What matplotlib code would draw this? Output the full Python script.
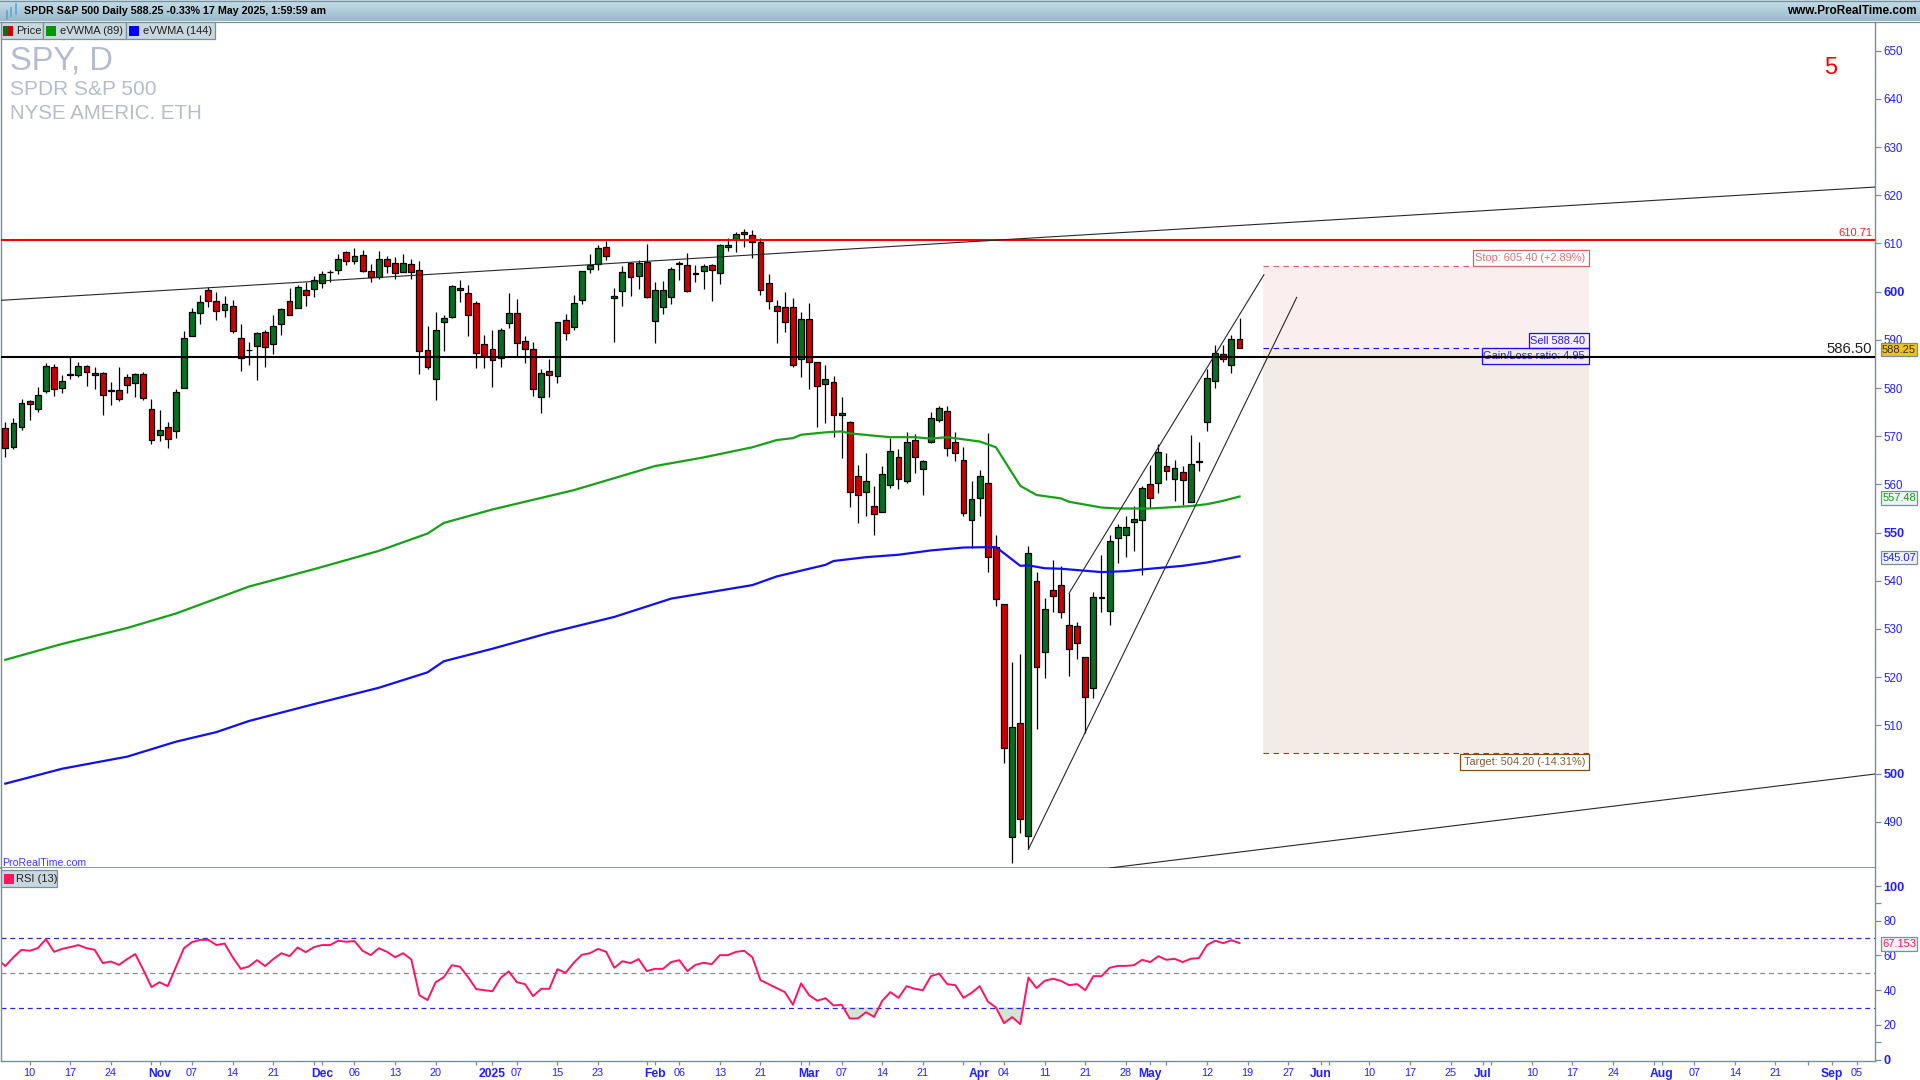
# SPY daily chart with eVWMA and RSI panel

import numpy as np
import matplotlib
matplotlib.use('Agg')
import matplotlib.pyplot as plt
from matplotlib.patches import Rectangle

plt.rcParams['font.family'] = ['Liberation Sans', 'DejaVu Sans']

opens = [571.7, 567.8, 572.0, 577.3, 575.7, 579.3, 584.3, 579.9, 582.6, 582.8,
         584.5, 582.6, 583.1, 579.5, 579.5, 582.2, 581.0, 582.9, 575.6, 570.3,
         571.9, 571.0, 580.0, 590.7, 595.5, 600.3, 598.0, 596.1, 597.0, 590.3,
         587.9, 588.7, 591.6, 589.1, 593.2, 598.0, 596.6, 600.3, 600.5, 601.7,
         604.1, 604.4, 608.2, 606.3, 607.5, 604.2, 603.1, 606.7, 605.9, 604.0,
         605.7, 604.4, 587.8, 581.8, 593.8, 594.7, 600.7, 599.7, 597.6, 589.1,
         588.0, 586.2, 593.4, 595.5, 589.7, 588.0, 578.1, 583.5, 582.4, 594.1,
         592.6, 598.2, 604.6, 605.7, 609.2, 598.6, 600.1, 605.9, 603.2, 606.1,
         593.9, 596.8, 598.8, 605.7, 605.5, 603.8, 604.2, 605.5, 603.8, 609.2,
         610.9, 611.9, 611.7, 610.2, 601.7, 597.0, 596.8, 596.8, 586.0, 594.3,
         585.3, 580.8, 581.2, 574.3, 572.9, 561.7, 558.4, 555.5, 554.2, 559.8,
         565.6, 560.7, 569.2, 563.1, 568.9, 573.3, 575.2, 568.7, 565.0, 552.6,
         557.1, 560.2, 547.0, 535.1, 486.8, 510.4, 487.0, 539.9, 525.2, 538.0,
         539.1, 530.8, 530.6, 524.1, 517.7, 536.6, 533.7, 548.8, 549.4, 552.2,
         552.6, 560.0, 560.2, 563.8, 561.1, 562.5, 556.3, 564.8, 572.9, 581.4,
         587.0, 584.7, 590.1]
highs = [573.0, 573.7, 577.7, 577.5, 580.2, 585.1, 584.9, 582.6, 586.4, 585.3,
         584.7, 584.4, 583.3, 581.2, 584.4, 582.9, 583.1, 583.3, 577.7, 575.4,
         572.9, 579.7, 591.8, 596.6, 599.4, 600.9, 599.9, 599.0, 598.2, 593.2,
         589.6, 591.6, 592.0, 595.1, 596.6, 600.7, 601.3, 601.9, 603.2, 604.2,
         604.4, 607.8, 608.4, 609.0, 608.6, 605.7, 608.4, 607.3, 607.1, 607.8,
         606.7, 606.3, 592.8, 595.7, 595.1, 601.3, 602.4, 601.3, 598.1, 591.0,
         592.0, 592.4, 599.7, 598.4, 590.7, 589.5, 583.9, 586.0, 593.8, 595.3,
         599.2, 604.2, 607.8, 609.6, 610.5, 600.7, 605.3, 606.1, 606.5, 609.8,
         601.9, 602.2, 605.1, 606.3, 608.0, 605.5, 605.7, 605.7, 609.8, 611.1,
         612.3, 613.1, 612.7, 611.1, 603.6, 598.2, 599.9, 598.6, 595.7, 597.6,
         585.3, 584.7, 582.4, 578.1, 573.1, 564.0, 566.5, 559.6, 563.8, 569.6,
         567.3, 570.8, 570.4, 565.0, 575.0, 576.2, 576.2, 570.8, 567.7, 560.7,
         562.9, 570.6, 549.4, 535.1, 523.2, 524.8, 547.2, 541.8, 536.4, 544.3,
         543.0, 537.4, 531.4, 524.1, 537.6, 545.3, 549.4, 551.7, 553.4, 555.5,
         559.7, 564.0, 568.3, 566.5, 565.0, 563.8, 570.2, 568.7, 584.0, 588.9,
         589.0, 591.0, 594.5]
lows = [565.6, 567.4, 571.2, 573.4, 575.1, 578.9, 578.4, 578.9, 581.9, 582.2,
        580.5, 579.8, 574.3, 576.4, 577.4, 578.9, 578.2, 577.6, 568.3, 569.1,
        567.6, 569.7, 580.0, 590.7, 593.2, 596.9, 594.2, 594.8, 591.5, 583.6,
        584.7, 581.7, 584.4, 587.1, 590.9, 595.1, 596.6, 597.1, 598.8, 600.8,
        602.1, 603.7, 605.6, 605.7, 604.0, 601.9, 602.6, 603.8, 602.7, 604.0,
        602.7, 583.0, 584.0, 577.6, 587.6, 594.5, 597.9, 590.7, 584.2, 584.2,
        580.3, 584.4, 592.5, 586.6, 585.1, 578.4, 574.9, 578.2, 581.1, 590.0,
        592.0, 597.4, 603.9, 604.4, 606.6, 589.6, 597.1, 599.0, 600.6, 598.6,
        589.4, 595.4, 597.5, 602.5, 599.9, 602.1, 600.6, 598.1, 601.5, 608.5,
        608.3, 609.3, 606.9, 599.4, 596.3, 589.4, 591.7, 584.4, 582.2, 579.7,
        572.0, 572.8, 569.9, 565.4, 555.4, 551.9, 553.5, 549.6, 554.2, 559.2,
        559.0, 560.2, 562.3, 557.9, 568.5, 572.9, 565.8, 564.8, 553.4, 546.8,
        553.5, 541.9, 534.7, 502.1, 481.5, 487.6, 484.3, 509.3, 519.9, 533.6,
        532.2, 520.2, 523.7, 508.4, 515.6, 533.6, 530.9, 543.6, 544.9, 546.1,
        541.3, 555.1, 558.3, 560.9, 556.6, 555.8, 556.3, 562.7, 571.0, 580.1,
        585.3, 583.2, 588.25]
closes = [567.5, 572.7, 576.8, 576.6, 578.5, 584.5, 579.7, 581.4, 582.9, 584.5,
          583.4, 583.1, 578.5, 579.3, 577.8, 580.6, 582.9, 577.9, 569.2, 571.2,
          569.4, 579.1, 590.3, 595.7, 597.8, 598.0, 595.9, 597.4, 591.8, 586.2,
          587.8, 591.4, 588.5, 592.8, 596.3, 595.1, 600.9, 599.2, 602.4, 603.6,
          604.0, 606.7, 606.3, 607.3, 604.2, 603.0, 606.7, 605.3, 603.8, 605.9,
          604.0, 587.6, 584.3, 592.0, 594.5, 601.1, 600.3, 595.1, 587.2, 586.6,
          585.8, 592.0, 595.5, 589.3, 588.0, 579.7, 583.1, 582.6, 593.6, 591.4,
          597.6, 604.2, 605.6, 609.0, 607.3, 599.0, 604.0, 603.0, 605.9, 598.8,
          600.3, 600.3, 604.6, 605.9, 600.1, 603.7, 605.3, 604.4, 609.6, 609.6,
          611.9, 612.3, 610.2, 600.3, 598.0, 595.9, 593.6, 584.7, 594.3, 585.3,
          580.4, 581.8, 574.3, 574.8, 558.4, 557.8, 560.7, 553.8, 562.1, 566.9,
          561.1, 568.7, 565.6, 564.8, 573.7, 575.8, 567.5, 566.5, 554.0, 556.9,
          561.7, 544.9, 536.2, 505.4, 509.6, 490.5, 545.7, 522.1, 534.1, 536.8,
          533.5, 525.8, 527.0, 515.8, 536.6, 536.5, 548.2, 551.1, 551.1, 552.8,
          559.2, 557.1, 566.7, 562.7, 563.3, 560.9, 564.2, 564.7, 582.0, 587.2,
          586.0, 590.1, 588.25]

# moving averages, read at the bars where they bend
evwma89_bars = [0, 7, 15, 21, 26, 30, 38, 46, 52, 54, 60, 67, 70, 80, 86, 92, 95,
                97, 98, 101, 103, 104, 107, 109, 112, 114, 116, 120, 122, 125, 127,
                130, 131, 135, 137, 141, 143, 146, 148, 150, 152]
evwma89 = [523.6, 526.9, 530.2, 533.2, 536.3, 538.8, 542.4, 546.2, 549.8, 552.0,
           554.8, 557.6, 558.8, 563.8, 565.6, 567.7, 569.2, 569.6, 570.3, 570.8,
           571.0, 570.6, 570.1, 569.8, 569.8, 569.5, 569.8, 568.9, 567.7, 559.7,
           557.8, 557.1, 556.4, 555.2, 555.0, 555.0, 555.2, 555.5, 555.9, 556.6,
           557.48]
evwma144_bars = [0, 7, 15, 21, 26, 30, 38, 46, 52, 54, 60, 67, 75, 82, 92, 95, 101,
                 102, 106, 110, 114, 118, 122, 125, 126, 128, 130, 135, 138, 141,
                 145, 148, 152]
evwma144 = [497.9, 501.0, 503.5, 506.6, 508.6, 510.9, 514.4, 517.8, 521.0, 523.3,
            525.9, 529.2, 532.5, 536.3, 539.1, 540.9, 543.3, 544.1, 544.9, 545.4,
            546.3, 546.9, 547.0, 543.1, 543.2, 542.6, 542.5, 541.8, 542.0, 542.5,
            543.1, 543.8, 545.07]

rsi = [58.1, 53.9, 59.0, 63.3, 62.7, 64.2, 69.4, 62.1, 63.8, 64.8, 66.0, 64.2, 63.3,
       55.6, 56.5, 54.6, 57.9, 60.8, 51.7, 41.8, 44.6, 42.3, 53.3, 64.2, 67.7, 69.0,
       69.0, 66.0, 66.9, 59.0, 52.3, 53.7, 57.3, 53.9, 57.9, 61.3, 59.6, 64.6, 61.9,
       64.8, 66.0, 66.0, 68.5, 67.9, 68.3, 62.7, 60.2, 64.2, 62.1, 59.0, 61.3, 57.7,
       37.1, 34.3, 44.6, 47.5, 54.4, 53.5, 47.5, 40.6, 40.0, 39.4, 47.1, 50.8, 44.6,
       43.5, 36.6, 40.8, 40.8, 52.1, 50.0, 55.8, 60.4, 61.3, 63.8, 62.1, 52.9, 56.7,
       55.6, 57.9, 51.0, 52.3, 52.3, 56.2, 57.3, 51.0, 54.6, 55.8, 55.0, 60.2, 60.2,
       62.1, 62.7, 59.0, 45.8, 43.5, 41.2, 38.9, 31.6, 43.9, 37.1, 33.9, 35.4, 31.2,
       31.6, 23.7, 23.7, 27.3, 24.6, 33.9, 38.9, 35.6, 42.3, 40.8, 40.0, 48.1, 49.6,
       43.5, 42.9, 35.6, 38.5, 42.3, 33.5, 30.0, 21.0, 24.5, 20.4, 47.3, 41.2, 45.4,
       46.6, 45.4, 42.9, 43.5, 40.0, 48.1, 48.1, 52.9, 54.0, 54.0, 54.4, 57.5, 56.2,
       59.6, 57.5, 58.1, 56.2, 58.1, 58.5, 66.0, 68.5, 67.1, 68.8, 67.153]

date_bars = [3, 8, 13, 19, 23, 28, 33, 39, 43, 48, 53, 60, 63, 68, 73, 80, 83, 88, 93,
             99, 103, 108, 113, 120, 123, 128, 133, 138, 141, 148, 153, 158, 162, 168,
             173, 178, 182, 188, 193, 198, 204, 208, 213, 218, 225, 228]
date_labels = ['10', '17', '24', 'Nov', '07', '14', '21', 'Dec', '06', '13', '20', '2025',
               '07', '15', '23', 'Feb', '06', '13', '21', 'Mar', '07', '14', '21', 'Apr',
               '04', '11', '21', '28', 'May', '12', '19', '27', 'Jun', '10', '17', '25',
               'Jul', '10', '17', '24', 'Aug', '07', '14', '21', 'Sep', '05']
extra_ticks = [18, 38, 58, 79, 98, 118, 143, 163, 183, 203, 222]
month_names = ['Nov', 'Dec', '2025', 'Feb', 'Mar', 'Apr', 'May', 'Jun', 'Jul', 'Aug', 'Sep']

price_ticks = [490, 500, 510, 520, 530, 540, 550, 560, 570, 580, 590, 600, 610, 620, 630, 640, 650]
rsi_ticks = [0, 20, 40, 60, 80, 100]
rsi_blank_ticks = [10, 90]

resistance = 610.71
support = 586.50
stop_price = 605.40
sell_price = 588.40
target_price = 504.20
last_close = 588.25

# trend lines as (bar, price) pairs
upper_channel = ([-0.53, 230.26], [598.2, 621.7])
lower_channel = ([136.0, 230.26], [480.4, 499.9])
wedge_low = ([126.0, 159.04], [484.3, 598.8])
wedge_high = ([131.0, 155.0], [537.4, 603.5])
order_bars = [154.9, 195.0]

RED = '#cc0000'
GREEN = '#057020'
AXIS = '#78909c'
BLUE_TXT = '#2020ff'
W, H = 1920, 1080

fig = plt.figure(figsize=(19.2, 10.8), dpi=100, facecolor='white')


def make_axes(x0, y0, x1, y1):
    return fig.add_axes([x0 / W, 1 - y1 / H, (x1 - x0) / W, (y1 - y0) / H])


ax = make_axes(1, 22, 1875, 868)
ax_rsi = make_axes(1, 868, 1875, 1061)
x = np.arange(len(closes))

# order zone
ax.fill_between(order_bars, sell_price, stop_price, color='#fbeeee', lw=0, zorder=1)
ax.fill_between(order_bars, target_price, sell_price, color='#f2ebe6', lw=0, zorder=1)
ax.plot(order_bars, [stop_price, stop_price], color='#e06060', lw=0.8, ls=(0, (5, 4)), zorder=2)
ax.plot(order_bars, [sell_price, sell_price], color='#1010f0', lw=0.8, ls=(0, (5, 4)), zorder=2)
ax.plot(order_bars, [target_price, target_price], color='#8a4b08', lw=0.8, ls=(0, (5, 4)), zorder=2)

# candles
body_lo = np.minimum(opens, closes)
body_hi = np.maximum(opens, closes)
colors = [GREEN if c >= o else RED for o, c in zip(opens, closes)]
ax.vlines(x, lows, highs, color='black', lw=0.9, zorder=3)
ax.bar(x, body_hi - body_lo, bottom=body_lo, width=0.72, color=colors,
       edgecolor='black', linewidth=0.9, zorder=4)

ax.plot(evwma89_bars, evwma89, color='#18a018', lw=1.6, zorder=5)
ax.plot(evwma144_bars, evwma144, color='#1010f0', lw=1.6, zorder=5)

ax.axhline(resistance, color='#ff0000', lw=1.5, zorder=6)
ax.axhline(support, color='black', lw=1.5, zorder=6)
for line in (upper_channel, lower_channel, wedge_low, wedge_high):
    ax.plot(line[0], line[1], color='#282828', lw=0.8, zorder=6)

ax.set_xlim(-0.53, 230.26)
ax.set_ylim(480.4, 655.95)
ax.set_xticks([])
ax.yaxis.tick_right()
ax.set_yticks(price_ticks)
ax.tick_params(axis='y', length=4, width=0.9, color=AXIS, pad=2)
for lab, val in zip(ax.get_yticklabels(), price_ticks):
    lab.set_color(BLUE_TXT)
    if val % 50 == 0 and val != 650:
        lab.set_fontsize(9.2)
        lab.set_fontweight('bold')
    else:
        lab.set_fontsize(8.3)

# rsi panel
rsi_x = np.arange(len(rsi)) - 1
rsi_arr = np.array(rsi)
ax_rsi.fill_between(rsi_x, rsi_arr, 30, where=rsi_arr < 30, interpolate=True, color='#d5e3d3', lw=0)
ax_rsi.axhline(70, color='#2a2ad8', lw=0.9, ls=(0, (4, 3)))
ax_rsi.axhline(30, color='#2a2ad8', lw=0.9, ls=(0, (4, 3)))
ax_rsi.axhline(50, color='#8c8c8c', lw=0.9, ls=(0, (4, 3)))
ax_rsi.plot(rsi_x, rsi, color='#ff1460', lw=1.4)
ax_rsi.set_xlim(-0.53, 230.26)
ax_rsi.set_ylim(-0.8, 110.4)
ax_rsi.yaxis.tick_right()
ax_rsi.set_yticks(rsi_ticks + rsi_blank_ticks)
ax_rsi.set_yticklabels([str(v) for v in rsi_ticks] + ['', ''])
ax_rsi.tick_params(axis='y', length=4, width=0.9, color=AXIS, pad=2)
for lab, val in zip(ax_rsi.get_yticklabels(), rsi_ticks):
    lab.set_color(BLUE_TXT)
    if val in (0, 100):
        lab.set_fontsize(9.2)
        lab.set_fontweight('bold')
    else:
        lab.set_fontsize(8.3)

ax_rsi.set_xticks(date_bars + extra_ticks)
ax_rsi.set_xticklabels(date_labels + [''] * len(extra_ticks))
ax_rsi.tick_params(axis='x', length=3, width=0.9, color=AXIS, pad=1.8)
for lab in ax_rsi.get_xticklabels():
    lab.set_color(BLUE_TXT)
    if lab.get_text() in month_names:
        lab.set_fontsize(8.7)
        lab.set_fontweight('bold')
    else:
        lab.set_fontsize(7.8)

for a in (ax, ax_rsi):
    for side, spine in a.spines.items():
        spine.set_color(AXIS)
        spine.set_linewidth(1.0)
    a.spines['top'].set_visible(False)
ax.spines['bottom'].set_linewidth(1.3)

# overlay in pixel coordinates for header, tabs and value boxes
ui = fig.add_axes([0, 0, 1, 1], zorder=10)
ui.set_xlim(0, W)
ui.set_ylim(H, 0)
ui.axis('off')
ui.patch.set_alpha(0)

grad = np.linspace(0, 1, 21)[:, None, None] * (np.array([0.60, 0.73, 0.79]) - np.array([0.78, 0.87, 0.91])) + np.array([0.78, 0.87, 0.91])
ui.imshow(grad, extent=(0, W, 21, 0), aspect='auto', zorder=1)
ui.set_xlim(0, W)
ui.set_ylim(H, 0)
ui.plot([0, W], [21.5, 21.5], color=AXIS, lw=0.9, zorder=2)
ui.plot([0, W], [0.5, 0.5], color=AXIS, lw=0.9, zorder=2)
ui.text(24, 11.5, 'SPDR S&P 500 Daily 588.25 -0.33% 17 May 2025, 1:59:59 am', fontsize=7.7,
        fontweight='bold', color='black', va='center', ha='left', zorder=3)
ui.text(1917, 11.5, 'www.ProRealTime.com', fontsize=8.5, fontweight='bold', color='black',
        va='center', ha='right', zorder=3)
# small candle icon in the header
ui.plot([7, 7], [11, 19], color='#5aa6d8', lw=1.2, zorder=3)
ui.plot([11, 11], [8, 16], color='#5aa6d8', lw=1.2, zorder=3)
ui.plot([16, 16], [4, 14], color='#5aa6d8', lw=1.2, zorder=3)


def tab(x0, x1, y0, y1, label, swatches, tx):
    ui.add_patch(Rectangle((x0, y0), x1 - x0, y1 - y0, fc='#c9d8df', ec=AXIS, lw=0.9, zorder=3))
    sx = x0 + 2 if len(swatches) == 2 else x0 + 3
    for col in swatches:
        ui.add_patch(Rectangle((sx, y0 + 4), 5 if len(swatches) == 2 else 10, 10, fc=col, ec='none', zorder=4))
        sx += 5
    ui.text(tx, (y0 + y1) / 2 + 0.5, label, fontsize=8, color='#202020', va='center', ha='left', zorder=4)


tab(0.5, 42.5, 22, 39, 'Price', [GREEN, RED], 16)
tab(42.5, 125.5, 22, 39, 'eVWMA (89)', ['#009900'], 60)
tab(125.5, 214.5, 22, 39, 'eVWMA (144)', ['#0000ff'], 143)
tab(0.5, 57, 870, 886.5, 'RSI (13)', ['#ff1460'], 16)

ui.text(10, 60.5, 'SPY, D', fontsize=23.6, color='#b5bdcd', va='center', ha='left', zorder=3)
ui.text(10, 89.5, 'SPDR S&P 500', fontsize=15, color='#b5bdcd', va='center', ha='left', zorder=3)
ui.text(10, 113.5, 'NYSE AMERIC. ETH', fontsize=14.8, color='#b5bdcd', va='center', ha='left', zorder=3)
ui.text(1831, 68.5, '5', fontsize=17, color='#ff0000', va='center', ha='center', zorder=3)
ui.text(2, 862.5, 'ProRealTime.com', fontsize=7.6, color='#3a3aff', va='center', ha='left', zorder=3)

ui.text(1872, 233, '610.71', fontsize=8, color='#ff2020', va='center', ha='right', zorder=3)
ui.text(1872, 349, '586.50', fontsize=10.7, color='#202020', va='center', ha='right', zorder=3)


def order_box(x0, y0, y1, label, edge, txt):
    ui.add_patch(Rectangle((x0, y0), 1588.7 - x0, y1 - y0, fc='none', ec=edge, lw=0.9, zorder=3))
    ui.text(1585, (y0 + y1) / 2, label, fontsize=7.9, color=txt, va='center', ha='right', zorder=2)


ui.add_patch(Rectangle((1473.3, 250), 115.4, 16.3, fc='white', ec='none', zorder=1))
order_box(1473.3, 250, 266.3, 'Stop: 605.40 (+2.89%)', '#e06060', '#e07070')
order_box(1529, 332.7, 348.3, 'Sell 588.40', '#1010f0', '#2020f0')
order_box(1482.3, 348.3, 364.3, 'Gain/Loss ratio: 4.95', '#1010f0', '#2020f0')
ui.add_patch(Rectangle((1460.3, 754.3), 128.4, 16, fc='white', ec='none', zorder=1))
order_box(1460.3, 754.3, 770.3, 'Target: 504.20 (-14.31%)', '#8a4b08', '#8a5a30')
# the black level line crosses the ratio box on top of its text
ui.plot([1482.3, 1588.7], [357, 357], color='black', lw=1.5, zorder=4)


def value_box(y0, y1, label, face, edge, txt, x0=1881, x1=1917):
    ui.add_patch(Rectangle((x0, y0), x1 - x0, y1 - y0, fc=face, ec=edge, lw=0.9, zorder=3))
    ui.text((x0 + x1) / 2, (y0 + y1) / 2 + 0.3, label, fontsize=8, color=txt, va='center', ha='center', zorder=4)


value_box(342.5, 356, '588.25', '#f2c21a', AXIS, '#303030')
value_box(491, 504.5, '557.48', '#f0f4f4', AXIS, '#10a010')
value_box(550.5, 564, '545.07', '#f0f4f4', AXIS, '#2020ff')
value_box(937, 950.5, '67.153', '#f0f4f4', AXIS, '#ff1460')

fig.savefig('out.png', dpi=100)
